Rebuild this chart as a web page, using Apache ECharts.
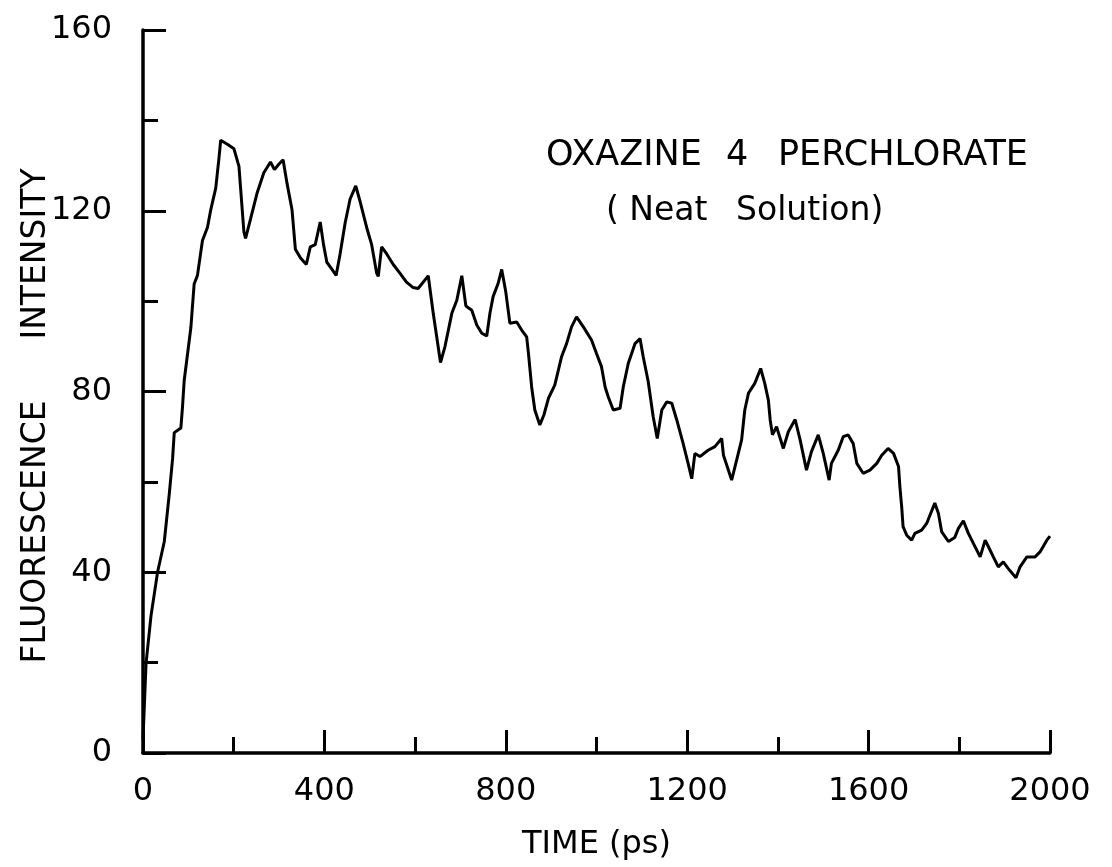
<!DOCTYPE html>
<html>
<head>
<meta charset="utf-8">
<script src="https://cdn.jsdelivr.net/npm/echarts@6/dist/echarts.min.js"></script>
<style>
html,body{margin:0;padding:0;background:#fff;}
#chart{width:1112px;height:867px;}
</style>
</head>
<body>
<div id="chart"></div>
<script>
const titleWords1 = ['OXAZINE', '4', 'PERCHLORATE'];
const titleWords2 = ['( Neat', 'Solution)'];
const xAxisName = 'TIME (ps)';
const yNameA = 'FLUORESCENCE';
const yNameB = 'INTENSITY';
const xTicks = [0, 400, 800, 1200, 1600, 2000];
const yTicks = [0, 40, 80, 120, 160];

const times = [0,6.7,17.7,32.3,47,58,65.3,68.9,83.5,87.2,90.9,98.2,105.5,112.8,120.1,131.1,142.1,149.4,160.4,167.7,171.3,186,200.6,211.6,222.5,226.2,237.2,251.8,266.4,281.1,289.9,299.4,308.9,317.7,328.6,336,347,360.1,368.9,379.8,390.8,398.1,405.4,416.4,425.9,434.7,445.7,456.7,469.1,478.6,493.2,504.2,515.2,518.8,526.2,537.1,551.8,566.4,581,595.7,606.6,
629,640,656,666,681,692,703,712,725,736,747,758,765,772,783,791,800,809,824,835,846,850,857,864,875,884,894,908,923,934,945,956,971,989,1000,1011,1019,1026,1037,1052,1059,1070,1085,1096,1103,1114,1125,1134,1144,1155,1166,1177,1191,1202,1210,1217,1228,1246,1261,1276,1280,1298,1309,1320,1327,1335,1349,1362,1371,1379,1383,1388,1397,1412,1423,1438,1449,1463,1474,1489,1500,1513,1518,1533,1544,1555,1566,1574,1588,1603,1618,1629,1643,1655,1666,1669,1673,1676,1684,1695,1702,1717,1728,1746,1754,1761,1776,1790,1798,1809,1820,1831,1846,1857,1864,1875,1886,1897,1908,1925,1934,1949,1967,1978,1993,2000];
const intensity = [3,19.8,30.4,40.1,46.8,57.4,65.2,70.9,71.9,76.7,82.5,88.3,94.1,103.8,105.7,113.4,116.3,120.2,125,131.8,135.6,134.7,133.7,129.8,115.3,113.9,118.2,124,128.4,130.8,129.1,130.3,131.3,126,120.2,111.5,109.6,108.1,112,112.5,117.5,112.5,108.6,107.1,105.7,110.5,117.3,122.6,125.5,122.1,116.3,112.5,106.2,105.5,112,110.5,108.1,106.2,104.2,103,102.8,
105.6,97.3,86.4,90,97.3,100.2,105.6,98.9,98,94.7,92.9,92.3,97.3,101,103.9,107,102,95.1,95.4,93.6,92.1,88.4,81,75.9,72.6,74.8,78.5,81.4,87.7,90.6,94.3,96.5,94.3,91.4,88.4,85.5,81,78.8,75.9,76.3,81,86.2,90.6,91.7,87.7,82.2,74.4,69.6,75.9,77.7,77.4,73.7,68.5,64.1,60.7,66.3,65.6,67,67.8,69.6,65.9,60.4,64.8,69.3,75.9,79.6,81.8,85.1,81.8,78.1,73.7,70.4,72.2,67.4,71.1,73.8,69.3,62.6,66.7,70.4,66.3,60.4,64.1,67,70,70.4,68.5,64.1,61.9,62.6,64.1,65.9,67.4,66.3,63.4,58.9,54.4,50.1,48.2,47.1,48.6,49.3,50.8,55.3,53,49,46.8,47.7,49.7,51.4,48.6,46.4,43.4,47.1,45.7,43.4,41.2,42.3,40.8,38.8,41.2,43.4,43.4,44.5,47.1,48];

const seriesData = times.map((t, i) => [t, intensity[i]]);
const FONT = 'DejaVu Sans';

const chart = echarts.init(document.getElementById('chart'), null, {renderer: 'canvas'});
chart.setOption({
  animation: false,
  backgroundColor: '#fff',
  grid: {left: 143, right: 62, top: 30, bottom: 114, containLabel: false},
  xAxis: {
    type: 'value', min: xTicks[0], max: xTicks[xTicks.length - 1], interval: xTicks[1] - xTicks[0],
    name: xAxisName, nameLocation: 'middle', nameGap: 76,
    nameTextStyle: {fontFamily: FONT, fontSize: 32, color: '#000'},
    axisLine: {show: true, lineStyle: {color: '#000', width: 3.5}},
    axisTick: {show: true, inside: true, length: 23, lineStyle: {color: '#000', width: 3}},
    minorTick: {show: true, splitNumber: 2, length: 16, lineStyle: {color: '#000', width: 3}},
    axisLabel: {fontFamily: FONT, fontSize: 32, color: '#000', margin: 23, formatter: v => String(v)},
    splitLine: {show: false}, minorSplitLine: {show: false}
  },
  yAxis: {
    type: 'value', min: yTicks[0], max: yTicks[yTicks.length - 1], interval: yTicks[1] - yTicks[0],
    axisLine: {show: true, lineStyle: {color: '#000', width: 3.5}},
    axisTick: {show: true, inside: true, length: 23, lineStyle: {color: '#000', width: 3}},
    minorTick: {show: true, splitNumber: 2, length: 15, lineStyle: {color: '#000', width: 3}},
    axisLabel: {fontFamily: FONT, fontSize: 32, color: '#000', margin: 31, formatter: v => String(v)},
    splitLine: {show: false}, minorSplitLine: {show: false}
  },
  graphic: [
    {type: 'text', left: 546, top: 138, style: {text: titleWords1[0], font: '35px "DejaVu Sans"', fill: '#000'}},
    {type: 'text', left: 726, top: 138, style: {text: titleWords1[1], font: '35px "DejaVu Sans"', fill: '#000'}},
    {type: 'text', left: 778, top: 138, style: {text: titleWords1[2], font: '35px "DejaVu Sans"', fill: '#000'}},
    {type: 'text', left: 606, top: 195, style: {text: titleWords2[0], font: '33px "DejaVu Sans"', fill: '#000'}},
    {type: 'text', left: 736, top: 195, style: {text: titleWords2[1], font: '33px "DejaVu Sans"', fill: '#000'}},
    {type: 'text', x: 36, y: 532, rotation: Math.PI / 2, style: {text: yNameA, font: '33px "DejaVu Sans"', fill: '#000', align: 'center', verticalAlign: 'middle'}},
    {type: 'text', x: 36, y: 254, rotation: Math.PI / 2, style: {text: yNameB, font: '33px "DejaVu Sans"', fill: '#000', align: 'center', verticalAlign: 'middle'}}
  ],
  series: [{
    type: 'line', data: seriesData, showSymbol: false, symbol: 'none', smooth: false,
    lineStyle: {color: '#000', width: 3}, clip: true
  }]
});
</script>
</body>
</html>
